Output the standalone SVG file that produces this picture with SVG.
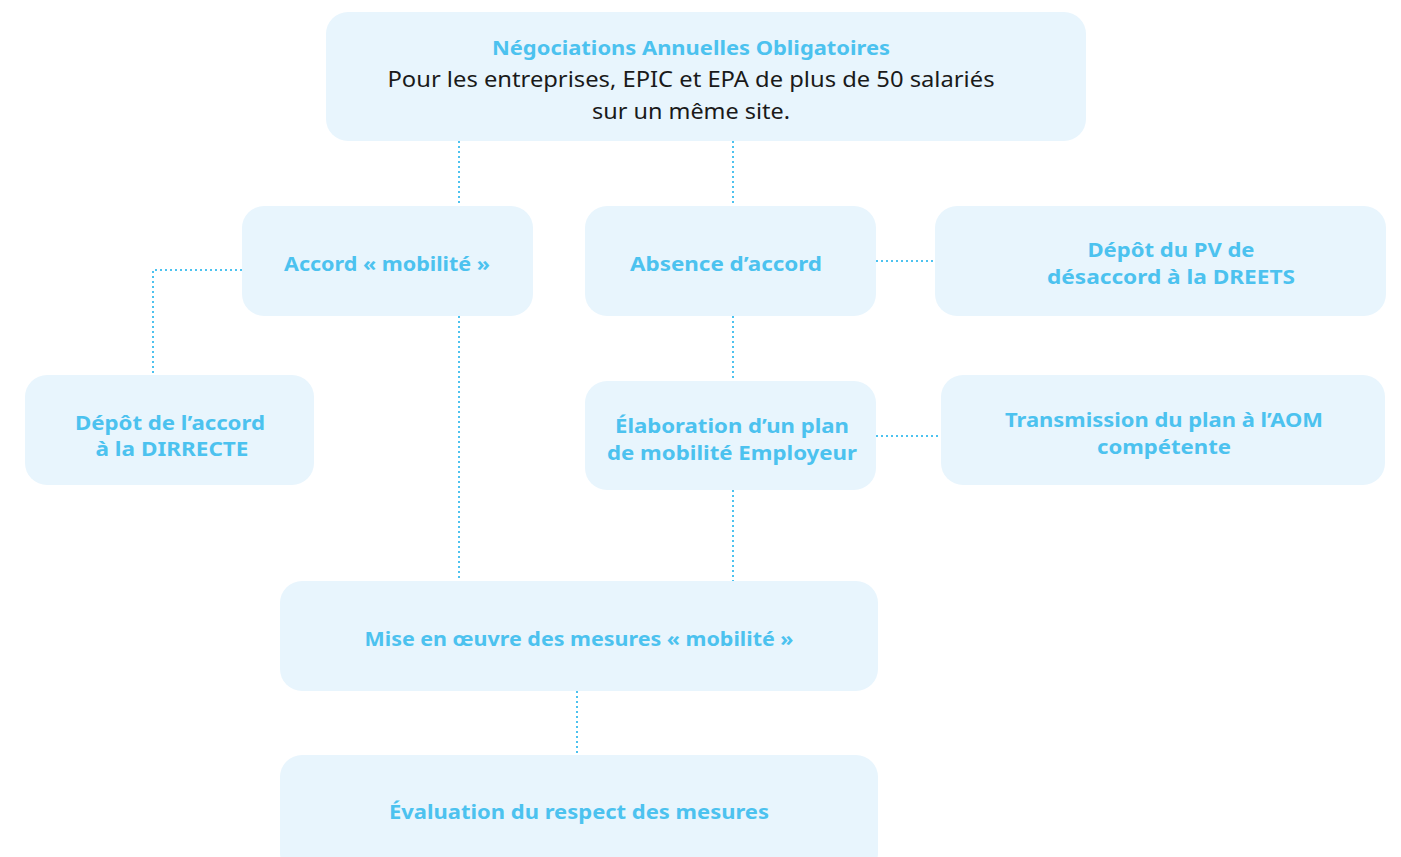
<svg xmlns="http://www.w3.org/2000/svg" width="1401" height="857" viewBox="0 0 1401 857">
<style>
.box{fill:#e8f5fd}
.lbl{font-family:"Noto Sans","Open Sans","Liberation Sans",sans-serif;font-weight:700;font-size:20px;fill:#4cc2ef;text-anchor:middle}
.reg{font-family:"Noto Sans","Open Sans","Liberation Sans",sans-serif;font-weight:400;font-size:21px;fill:#1a1a1a;text-anchor:middle}
.con{fill:none;stroke:#4cc2ef;stroke-width:2;stroke-dasharray:2 3}
</style>
<rect width="1401" height="857" fill="#ffffff"/>
<g id="connectors">
<path class="con" d="M459 141V206"/>
<path class="con" d="M733 141V206"/>
<path class="con" d="M242 270H153V375"/>
<path class="con" d="M459 316V581"/>
<path class="con" d="M733 316V381"/>
<path class="con" d="M733 490V581"/>
<path class="con" d="M876 261H935"/>
<path class="con" d="M876 436H941"/>
<path class="con" d="M577 691V755"/>
</g>
<g id="nao">
<rect class="box" x="326" y="12" width="760" height="129" rx="22"/>
<text class="lbl" x="691" y="55" textLength="398" lengthAdjust="spacingAndGlyphs">Négociations Annuelles Obligatoires</text>
<text class="reg" x="691" y="87" textLength="607" lengthAdjust="spacingAndGlyphs">Pour les entreprises, EPIC et EPA de plus de 50 salariés</text>
<text class="reg" x="691" y="119" textLength="198" lengthAdjust="spacingAndGlyphs">sur un même site.</text>
</g>
<g id="accord">
<rect class="box" x="242" y="206" width="291" height="110" rx="22"/>
<text class="lbl" x="387" y="271" textLength="206" lengthAdjust="spacingAndGlyphs">Accord « mobilité »</text>
</g>
<g id="absence">
<rect class="box" x="585" y="206" width="291" height="110" rx="22"/>
<text class="lbl" x="726" y="271" textLength="192" lengthAdjust="spacingAndGlyphs">Absence d’accord</text>
</g>
<g id="depot-pv">
<rect class="box" x="935" y="206" width="451" height="110" rx="22"/>
<text class="lbl" x="1171" y="257" textLength="167" lengthAdjust="spacingAndGlyphs">Dépôt du PV de</text>
<text class="lbl" x="1171" y="284" textLength="248" lengthAdjust="spacingAndGlyphs">désaccord à la DREETS</text>
</g>
<g id="depot-accord">
<rect class="box" x="25" y="375" width="289" height="110" rx="22"/>
<text class="lbl" x="170" y="430" textLength="190" lengthAdjust="spacingAndGlyphs">Dépôt de l’accord</text>
<text class="lbl" x="172" y="456" textLength="153" lengthAdjust="spacingAndGlyphs">à la DIRRECTE</text>
</g>
<g id="elaboration">
<rect class="box" x="585" y="381" width="291" height="109" rx="22"/>
<text class="lbl" x="732" y="433" textLength="234" lengthAdjust="spacingAndGlyphs">Élaboration d’un plan</text>
<text class="lbl" x="732" y="460" textLength="250" lengthAdjust="spacingAndGlyphs">de mobilité Employeur</text>
</g>
<g id="transmission">
<rect class="box" x="941" y="375" width="444" height="110" rx="22"/>
<text class="lbl" x="1164" y="427" textLength="318" lengthAdjust="spacingAndGlyphs">Transmission du plan à l’AOM</text>
<text class="lbl" x="1164" y="454" textLength="134" lengthAdjust="spacingAndGlyphs">compétente</text>
</g>
<g id="mise-en-oeuvre">
<rect class="box" x="280" y="581" width="598" height="110" rx="22"/>
<text class="lbl" x="579" y="646" textLength="429" lengthAdjust="spacingAndGlyphs">Mise en œuvre des mesures « mobilité »</text>
</g>
<g id="evaluation">
<rect class="box" x="280" y="755" width="598" height="120" rx="22"/>
<text class="lbl" x="579" y="819" textLength="380" lengthAdjust="spacingAndGlyphs">Évaluation du respect des mesures</text>
</g>
</svg>
